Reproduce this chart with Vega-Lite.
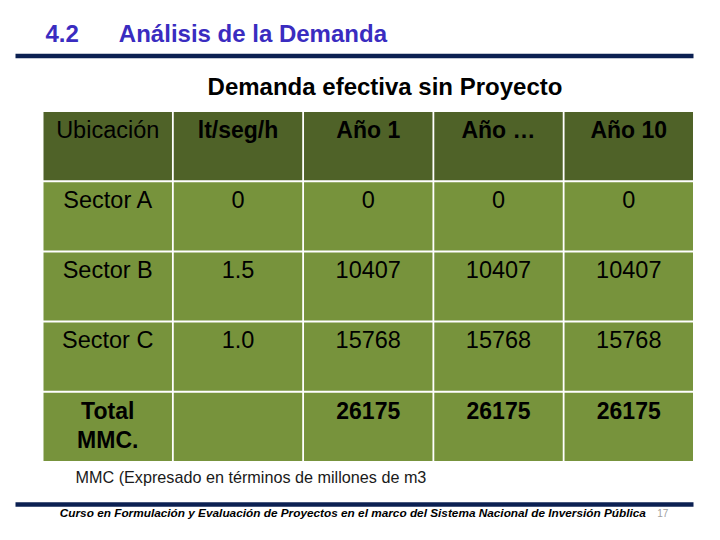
{
  "$schema": "https://vega.github.io/schema/vega-lite/v6.json",
  "width": 720,
  "height": 540,
  "autosize": {"type": "none"},
  "padding": 0,
  "background": "#ffffff",
  "config": {
    "view": {"stroke": null},
    "font": "Liberation Sans",
    "axis": {"grid": false, "ticks": false, "labels": false, "domain": false, "titleFont": "Liberation Sans"}
  },
  "data": {
    "values": [
      {"fila": "Encabezado", "columna": "Ubicación", "texto": "Ubicación"},
      {"fila": "Encabezado", "columna": "lt/seg/h", "texto": "lt/seg/h"},
      {"fila": "Encabezado", "columna": "Año 1", "texto": "Año 1"},
      {"fila": "Encabezado", "columna": "Año …", "texto": "Año …"},
      {"fila": "Encabezado", "columna": "Año 10", "texto": "Año 10"},
      {"fila": "Sector A", "columna": "Ubicación", "texto": "Sector A"},
      {"fila": "Sector A", "columna": "lt/seg/h", "texto": "0"},
      {"fila": "Sector A", "columna": "Año 1", "texto": "0"},
      {"fila": "Sector A", "columna": "Año …", "texto": "0"},
      {"fila": "Sector A", "columna": "Año 10", "texto": "0"},
      {"fila": "Sector B", "columna": "Ubicación", "texto": "Sector B"},
      {"fila": "Sector B", "columna": "lt/seg/h", "texto": "1.5"},
      {"fila": "Sector B", "columna": "Año 1", "texto": "10407"},
      {"fila": "Sector B", "columna": "Año …", "texto": "10407"},
      {"fila": "Sector B", "columna": "Año 10", "texto": "10407"},
      {"fila": "Sector C", "columna": "Ubicación", "texto": "Sector C"},
      {"fila": "Sector C", "columna": "lt/seg/h", "texto": "1.0"},
      {"fila": "Sector C", "columna": "Año 1", "texto": "15768"},
      {"fila": "Sector C", "columna": "Año …", "texto": "15768"},
      {"fila": "Sector C", "columna": "Año 10", "texto": "15768"},
      {"fila": "Total MMC.", "columna": "Ubicación", "texto": "Total\nMMC."},
      {"fila": "Total MMC.", "columna": "lt/seg/h", "texto": ""},
      {"fila": "Total MMC.", "columna": "Año 1", "texto": "26175"},
      {"fila": "Total MMC.", "columna": "Año …", "texto": "26175"},
      {"fila": "Total MMC.", "columna": "Año 10", "texto": "26175"}
    ]
  },
  "layer": [
    {
      "mark": {"type": "rect"},
      "encoding": {
        "x": {
          "field": "columna", "type": "nominal",
          "scale": {"type": "band", "domain": ["Ubicación", "lt/seg/h", "Año 1", "Año …", "Año 10"], "range": [15, 693], "paddingInner": 0.0138, "paddingOuter": 0.1094, "align": 1},
          "axis": {
            "orient": "top", "offset": -55.5, "domain": true, "domainColor": "#0b2052", "domainWidth": 4.4,
            "title": "Demanda efectiva sin Proyecto", "titleX": 384.5, "titleY": 38.8, "titleAlign": "center",
            "titleBaseline": "alphabetic", "titleAngle": 0, "titleFontSize": 24, "titleFontWeight": "bold", "titleColor": "#000000"
          }
        },
        "y": {
          "field": "fila", "type": "nominal",
          "scale": {"type": "band", "domain": ["Encabezado", "Sector A", "Sector B", "Sector C", "Total MMC."], "range": [112, 461], "paddingInner": 0.0286, "paddingOuter": 0},
          "axis": {
            "orient": "left", "title": "4.2\u00a0\u00a0\u00a0\u00a0\u00a0\u00a0Análisis de la Demanda",
            "titleX": 45, "titleY": 41.5, "titleAngle": 0, "titleAlign": "left", "titleBaseline": "alphabetic",
            "titleFontSize": 24, "titleFontWeight": "bold", "titleColor": "#3a2cc0"
          }
        },
        "color": {"condition": {"test": "datum.fila === 'Encabezado'", "value": "#4f6228"}, "value": "#77933c"}
      }
    },
    {
      "transform": [{"filter": "!(datum.fila === 'Total MMC.' || (datum.fila === 'Encabezado' && datum.columna !== 'Ubicación'))"}],
      "mark": {"type": "text", "fontSize": 23.5, "baseline": "alphabetic", "dy": -8.5, "color": "#000000", "font": "Liberation Sans"},
      "encoding": {
        "x": {
          "field": "columna", "type": "nominal",
          "axis": {
            "orient": "bottom", "offset": -36, "domain": true, "domainColor": "#0b2052", "domainWidth": 4.3,
            "labels": true, "labelExpr": "datum.value === 'Año 10' ? '17' : ''", "labelOffset": 34, "labelPadding": 12.5,
            "tickSize": 0, "labelBaseline": "alphabetic", "labelColor": "#a0a0a0", "labelFontSize": 10, "labelFont": "Liberation Sans",
            "labelAngle": 0, "labelFlush": false, "labelOverlap": false,
            "title": "Curso en Formulación y Evaluación de Proyectos en el marco del Sistema Nacional de Inversión Pública",
            "titleX": 59.3, "titleY": 12.7, "titleAlign": "left", "titleBaseline": "alphabetic", "titleAngle": 0,
            "titleFontSize": 11.8, "titleFontWeight": "bold", "titleFontStyle": "italic", "titleColor": "#000000"
          }
        },
        "y": {
          "field": "fila", "type": "nominal",
          "axis": {
            "orient": "right", "title": "MMC (Expresado en términos de millones de m3",
            "titleX": -645, "titleY": 482, "titleAngle": 0, "titleAlign": "left", "titleBaseline": "alphabetic",
            "titleFontSize": 16.2, "titleFontWeight": "normal", "titleColor": "#1a1a1a"
          }
        },
        "text": {"field": "texto"}
      }
    },
    {
      "transform": [{"filter": "datum.fila === 'Total MMC.' || (datum.fila === 'Encabezado' && datum.columna !== 'Ubicación')"}],
      "mark": {"type": "text", "fontSize": 23, "fontWeight": "bold", "baseline": "alphabetic", "dy": -8, "color": "#000000", "font": "Liberation Sans", "lineBreak": "\n", "lineHeight": 29},
      "encoding": {
        "x": {"field": "columna", "type": "nominal", "axis": null},
        "y": {"field": "fila", "type": "nominal", "axis": null},
        "text": {"field": "texto"}
      }
    }
  ],
  "resolve": {"axis": {"x": "independent", "y": "independent"}}
}
